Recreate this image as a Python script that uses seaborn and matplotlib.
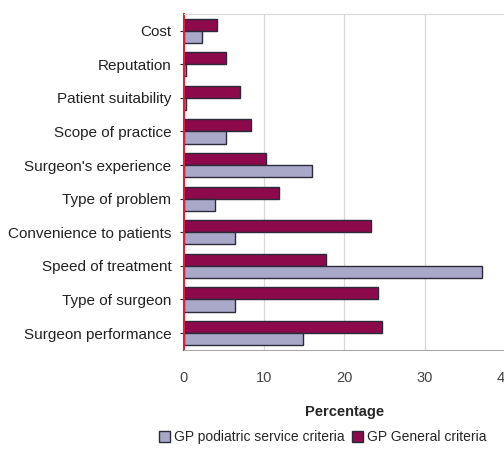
import pandas as pd
import matplotlib
matplotlib.use('Agg')
import matplotlib.pyplot as plt
import seaborn as sns

categories = [
    'Cost', 'Reputation', 'Patient suitability', 'Scope of practice',
    "Surgeon's experience", 'Type of problem', 'Convenience to patients',
    'Speed of treatment', 'Type of surgeon', 'Surgeon performance'
]
general = [4.1, 5.3, 7.0, 8.3, 10.2, 11.9, 23.3, 17.7, 24.2, 24.7]
podiatric = [2.2, 0.3, 0.3, 5.3, 15.9, 3.9, 6.3, 37.1, 6.3, 14.8]

gen_label = 'GP General criteria'
pod_label = 'GP podiatric service criteria'

df = pd.DataFrame({
    'criterion': categories * 2,
    'pct': general + podiatric,
    'series': [gen_label] * len(categories) + [pod_label] * len(categories),
})

sns.set_style('white')
plt.rcParams['font.family'] = ['Liberation Sans', 'DejaVu Sans']

fig = plt.figure(figsize=(5.04, 4.61), dpi=100)
ax = fig.add_axes([0.365, 0.241, 0.637, 0.729])

palette = {gen_label: '#8c0a4b', pod_label: '#aaa8c8'}
sns.barplot(data=df, y='criterion', x='pct', hue='series',
            hue_order=[gen_label, pod_label], palette=palette,
            orient='h', width=0.72, edgecolor='#2a2a3a', linewidth=1.0,
            saturation=1, ax=ax)

# the reference crops the right edge, so the "40" label is cut off on purpose
ax.set_xlim(0, 40)
ax.set_xticks([0, 10, 20, 30, 40])
ax.xaxis.grid(True, color='#d8d8d8', linewidth=0.9)
ax.set_axisbelow(True)
ax.set_ylabel('')
ax.set_xlabel('Percentage', fontsize=10.5, fontweight='bold', labelpad=14)
ax.tick_params(axis='x', labelsize=10.5, colors='#444444', pad=12)
ax.tick_params(axis='y', labelsize=11, colors='#222222', pad=6, length=3, left=True)
for s in ['top', 'right']:
    ax.spines[s].set_color('#d8d8d8')
ax.spines['bottom'].set_color('#aaaaaa')
ax.spines['left'].set_color('#e0203a')
ax.spines['left'].set_linewidth(1.5)

handles, labels = ax.get_legend_handles_labels()
ax.legend_.remove()
order = [labels.index(pod_label), labels.index(gen_label)]
fig.legend([handles[i] for i in order], [labels[i] for i in order],
           loc='center left', bbox_to_anchor=(0.29, 0.052), ncol=2, frameon=False,
           fontsize=10, handlelength=0.8, handleheight=0.8,
           handletextpad=0.3, columnspacing=0.5)

fig.savefig('out.png', dpi=100)
